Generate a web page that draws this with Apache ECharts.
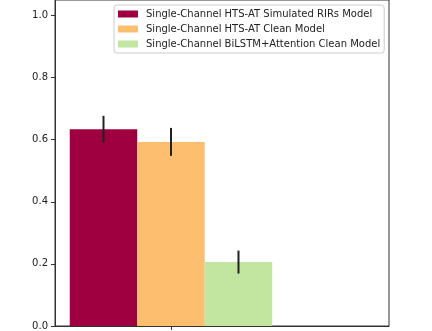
<!DOCTYPE html>
<html>
<head>
<meta charset="utf-8">
<script src="https://cdn.jsdelivr.net/npm/echarts@6/dist/echarts.min.js"></script>
<style>
  html, body { margin: 0; padding: 0; background: #fff; }
  #chart { width: 432px; height: 331px; }
</style>
</head>
<body>
<div id="chart"></div>
<script>
// Data
var models = [
  'Single-Channel HTS-AT Simulated RIRs Model',
  'Single-Channel HTS-AT Clean Model',
  'Single-Channel BiLSTM+Attention Clean Model'
];
var scores = [0.634, 0.593, 0.206];
var errors = [0.043, 0.045, 0.037];
var positions = [-1, 0, 1];
var colors = ['#9f003f', '#fdbf6f', '#c2e5a0'];
var yTicks = [0, 0.2, 0.4, 0.6, 0.8, 1.0];

var chart = echarts.init(document.getElementById('chart'));
var font = 'DejaVu Sans';

// 柱子
var series = models.map(function(name, i) {
  return {
    name: name,
    type: 'bar',
    barWidth: 67.5,
    barGap: '-100%',
    itemStyle: { color: colors[i] },
    data: [[positions[i], scores[i]]],
    z: 2
  };
});

// 误差线
series.push({
  type: 'custom',
  name: 'err',
  z: 5,
  renderItem: function(params, api) {
    var lo = api.coord([api.value(0), api.value(1)]);
    var hi = api.coord([api.value(0), api.value(2)]);
    return {
      type: 'line',
      shape: { x1: lo[0], y1: lo[1], x2: hi[0], y2: hi[1] },
      style: { stroke: '#222', lineWidth: 2 }
    };
  },
  encode: { x: 0, y: [1, 2] },
  data: scores.map(function(v, i) {
    return [positions[i], v - errors[i], v + errors[i]];
  })
});

chart.setOption({
  animation: false,
  grid: {
    left: 55, right: 43, top: 0, bottom: 5,
    show: true, borderColor: '#333', borderWidth: 1
  },
  legend: {
    data: models,
    orient: 'vertical',
    left: 114,
    top: 5,
    padding: [3, 4, 3, 4],
    itemWidth: 20,
    itemHeight: 7,
    itemGap: 3,
    icon: 'rect',
    backgroundColor: 'rgba(255,255,255,0.8)',
    borderColor: '#ccc',
    borderWidth: 1,
    borderRadius: 3,
    textStyle: { fontFamily: font, fontSize: 10, color: '#222', lineHeight: 12, padding: [0, 0, 0, 3] }
  },
  xAxis: {
    type: 'value',
    min: -1.7185,
    max: 3.23,
    axisLine: { show: true, onZero: false, lineStyle: { color: '#333' } },
    axisTick: { show: true, customValues: [0], length: 4, lineStyle: { color: '#333' } },
    axisLabel: { show: false },
    splitLine: { show: false }
  },
  yAxis: {
    type: 'value',
    min: 0,
    max: 1.05,
    axisLine: { show: true, onZero: false, lineStyle: { color: '#333' } },
    axisTick: { show: true, customValues: yTicks, length: 4, lineStyle: { color: '#333' } },
    axisLabel: {
      customValues: yTicks,
      margin: 7,
      fontFamily: font,
      fontSize: 10,
      color: '#222',
      formatter: function(v) { return v.toFixed(1); }
    },
    splitLine: { show: false }
  },
  series: series
});
</script>
</body>
</html>
